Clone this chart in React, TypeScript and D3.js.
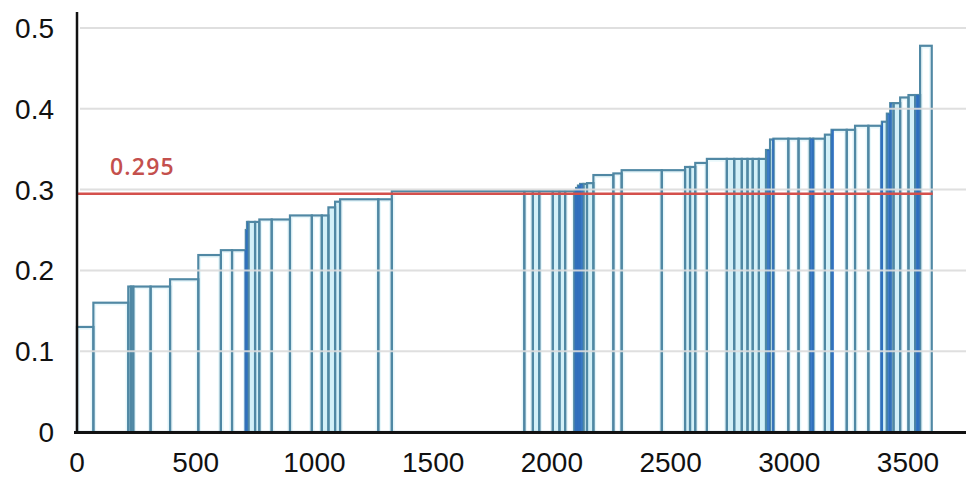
import React from "react";
import * as d3 from "d3";

// Bar boundaries along the x axis (cumulative count) and bar heights
const barEdges = [
  0, 69, 216, 227, 237, 310, 392, 511, 606, 653, 711, 716, 722, 750, 768, 820, 897, 989, 1031, 1059, 1087, 1108, 1269, 1326,
  1884, 1920, 1947, 2004, 2032, 2056, 2095, 2102, 2110, 2119, 2133, 2148, 2175, 2259, 2294, 2463,
  2561, 2582, 2604, 2653, 2737, 2768, 2800, 2824, 2846, 2872, 2902, 2919, 2933,
  2996, 3039, 3087, 3101, 3150, 3178, 3242, 3277, 3333, 3390, 3411, 3425, 3439, 3467, 3502, 3530, 3542, 3551, 3600,
];
const barValues = [
  0.13, 0.16, 0.18, 0.18, 0.18, 0.18, 0.189, 0.219, 0.225, 0.225, 0.25, 0.26, 0.26, 0.26, 0.263, 0.263, 0.268, 0.268, 0.268, 0.278, 0.285, 0.288, 0.288,
  0.298, 0.298, 0.298, 0.298, 0.298, 0.298, 0.298, 0.299, 0.302, 0.305, 0.307, 0.307, 0.308, 0.318, 0.32, 0.324,
  0.324, 0.328, 0.328, 0.333, 0.338, 0.338, 0.338, 0.338, 0.338, 0.338, 0.338, 0.349, 0.362,
  0.363, 0.363, 0.363, 0.363, 0.363, 0.368, 0.374, 0.374, 0.379, 0.379, 0.384, 0.394, 0.407, 0.407, 0.414, 0.417, 0.417, 0.417, 0.478,
];
// Dense runs of very thin bars (drawn dark)
const denseStart = [706, 2096, 2906, 2928, 3088, 3175, 3383, 3414, 3533];
const denseEnd = [719, 2130, 2918, 2936, 3104, 3188, 3395, 3432, 3549];

const threshold = 0.295;
const thresholdLabel = "0.295";
const yTicks = [0, 0.1, 0.2, 0.3, 0.4, 0.5];
const yTickLabels = ["0", "0.1", "0.2", "0.3", "0.4", "0.5"];
const xTicks = [0, 500, 1000, 1500, 2000, 2500, 3000, 3500];

const W = 966;
const H = 479;

export default function App() {
  const x = d3.scaleLinear().domain([0, 3500]).range([77, 908]);
  const y = d3.scaleLinear().domain([0, 0.5]).range([432, 28]);

  const bars = barValues.map((v, i) => ({ s: barEdges[i], e: barEdges[i + 1], v }));

  const dense: { s: number; e: number; v: number }[] = [];
  denseStart.forEach((ds, k) => {
    const de = denseEnd[k];
    bars.forEach((b) => {
      const s = Math.max(ds, b.s);
      const e = Math.min(de, b.e);
      if (e > s) dense.push({ s, e, v: b.v });
    });
  });

  const font = "'Liberation Sans', Arial, sans-serif";

  return (
    <svg
      width={W}
      height={H}
      style={{ position: "absolute", left: 0, top: 0, background: "#fff" }}
    >
      {/* bars */}
      <g>
        {bars.map((b, i) => {
          const x0 = x(b.s);
          const x1 = x(b.e);
          const w = x1 - x0;
          const yt = y(b.v);
          const narrow = w < 8;
          return (
            <g key={i}>
              <rect x={x0} y={yt} width={w} height={y(0) - yt} fill={narrow ? "#d3f0f8" : "#ffffff"} />
              {!narrow && (
                <rect
                  x={x0 + 2}
                  y={yt + 2}
                  width={w - 4}
                  height={y(0) - yt - 2}
                  fill="none"
                  stroke="#e6f7fb"
                  strokeWidth={1.5}
                />
              )}
            </g>
          );
        })}
        {bars.map((b, i) => {
          const x0 = x(b.s);
          const x1 = x(b.e);
          const yt = y(b.v);
          return (
            <rect
              key={"s" + i}
              x={x0}
              y={yt}
              width={x1 - x0}
              height={y(0) - yt}
              fill="none"
              stroke="#5088a4"
              strokeWidth={2.2}
            />
          );
        })}
        {dense.map((d, i) => (
          <rect
            key={"d" + i}
            x={x(d.s)}
            y={y(d.v)}
            width={x(d.e) - x(d.s)}
            height={y(0) - y(d.v)}
            fill="#2a6cc0"
            opacity={0.88}
          />
        ))}
      </g>

      {/* gridlines */}
      <g>
        {yTicks.filter((t) => t > 0).map((t) => (
          <line key={t} x1={80} x2={W} y1={y(t)} y2={y(t)} stroke="#dcdcdc" strokeWidth={2} opacity={0.9} />
        ))}
      </g>

      {/* threshold line */}
      <line x1={x(0)} x2={x(3600) + 1} y1={y(threshold)} y2={y(threshold)} stroke="#d4504c" strokeWidth={2.5} />
      <text
        x={110}
        y={175}
        fill="#c4504d"
        fontFamily="'Open Sans', sans-serif"
        fontWeight={600}
        fontSize={23}
        letterSpacing={1.2}
      >
        {thresholdLabel}
      </text>

      {/* axes */}
      <line x1={77} x2={77} y1={12} y2={433} stroke="#111" strokeWidth={2.5} />
      <line x1={74} x2={W} y1={432.5} y2={432.5} stroke="#111" strokeWidth={3} />

      {yTicks.map((t, i) => (
        <text
          key={t}
          x={54}
          y={y(t)}
          dy="0.36em"
          textAnchor="end"
          fontFamily={font}
          fontSize={28}
          fill="#111"
        >
          {yTickLabels[i]}
        </text>
      ))}
      {xTicks.map((t) => (
        <text key={t} x={x(t)} y={472} textAnchor="middle" fontFamily={font} fontSize={28} fill="#111">
          {t}
        </text>
      ))}
    </svg>
  );
}
